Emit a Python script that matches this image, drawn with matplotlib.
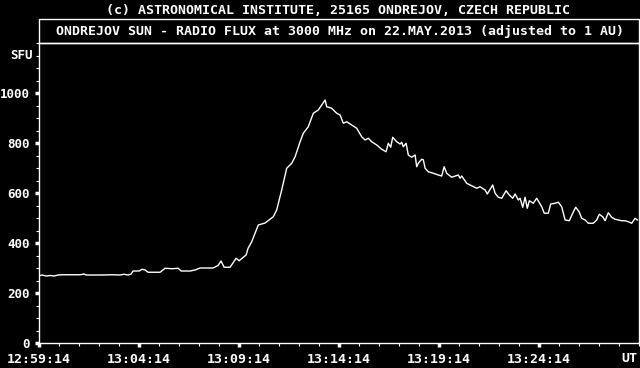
"""Ondrejov 3000 MHz solar radio flux, 22 May 2013, recreated in matplotlib."""

import matplotlib
matplotlib.use("Agg")
import matplotlib.pyplot as plt
from matplotlib.patches import Rectangle
from matplotlib.ticker import MultipleLocator

# --- data --------------------------------------------------------------------
# minutes after 12:59:14 UT
minutes = [
    0.00, 0.18, 0.38, 0.58, 0.78, 0.98, 1.18, 1.58, 2.08, 2.28, 2.38, 3.08,
    3.68, 4.08, 4.28, 4.48, 4.63, 4.73, 5.03, 5.18, 5.33, 5.48, 6.08, 6.33,
    6.68, 6.98, 7.13, 7.58, 7.83, 8.08, 8.73, 8.98, 9.13, 9.28, 9.58, 9.88,
    10.03, 10.38, 10.48, 10.66, 10.99, 11.33, 11.74, 11.91, 12.16, 12.41,
    12.66, 12.83, 13.08, 13.24, 13.49, 13.74, 13.99, 14.16, 14.33, 14.41,
    14.66, 14.91, 15.08, 15.24, 15.41, 15.66, 15.91, 16.16, 16.33, 16.49,
    16.66, 16.91, 17.16, 17.38, 17.49, 17.61, 17.71, 17.91, 18.08, 18.16,
    18.24, 18.38, 18.49, 18.66, 18.83, 18.91, 18.99, 19.16, 19.24, 19.33,
    19.49, 19.74, 19.99, 20.16, 20.28, 20.41, 20.66, 20.99, 21.08, 21.16,
    21.41, 21.58, 21.91, 22.08, 22.33, 22.44, 22.71, 22.83, 22.99, 23.16,
    23.38, 23.54, 23.71, 23.83, 23.99, 24.08, 24.21, 24.33, 24.44, 24.54,
    24.74, 24.91, 25.16, 25.29, 25.49, 25.61, 25.83, 25.99, 26.16, 26.33,
    26.54, 26.71, 26.86, 27.03, 27.16, 27.33, 27.49, 27.74, 27.91, 28.04,
    28.21, 28.33, 28.49, 28.66, 28.83, 29.16, 29.33, 29.49, 29.66, 29.83,
    29.94,
]
flux_sfu = [
    268, 272, 268, 270, 268, 272, 273, 273, 273, 276, 272, 272,
    273, 272, 275, 272, 276, 288, 288, 295, 292, 283, 283, 299,
    297, 299, 288, 288, 292, 300, 300, 310, 328, 303, 303, 339,
    329, 352, 379, 405, 472, 480, 505, 532, 612, 699,
    719, 745, 805, 839, 865, 919, 932, 952, 972, 945,
    939, 919, 912, 879, 885, 872, 859, 825, 812, 819,
    805, 792, 775, 765, 799, 783, 823, 805, 796, 803,
    785, 799, 752, 743, 752, 705, 719, 735, 733, 699,
    685, 679, 672, 668, 705, 679, 663, 672, 659, 668,
    639, 632, 619, 625, 612, 596, 632, 599, 583, 579,
    609, 592, 579, 596, 572, 579, 543, 583, 539, 569,
    559, 579, 545, 519, 519, 556, 559, 563, 545, 492,
    489, 519, 543, 525, 499, 492, 479, 479, 492, 515,
    505, 489, 521, 503, 495, 489, 489, 485, 479, 499,
    492,
]

tick_minutes = [0, 5, 10, 15, 20, 25]
tick_labels = ["12:59:14", "13:04:14", "13:09:14", "13:14:14", "13:19:14", "13:24:14"]
y_ticks = [0, 200, 400, 600, 800, 1000]

HEADER = "(c) ASTRONOMICAL INSTITUTE, 25165 ONDREJOV, CZECH REPUBLIC"
TITLE = "ONDREJOV SUN - RADIO FLUX at 3000 MHz on 22.MAY.2013 (adjusted to 1 AU)"

FONT = dict(family="DejaVu Sans Mono", weight="bold", color="white")
W, H = 640, 368


def main() -> None:
    fig = plt.figure(figsize=(W / 100, H / 100), dpi=100, facecolor="black")
    ax = fig.add_axes([38.5 / W, 25 / H, 600 / W, 300 / H], facecolor="black")

    ax.plot(minutes, flux_sfu, color="white", lw=1.0)
    ax.set_xlim(0, 30)
    ax.set_ylim(0, 1200)

    for side in ("left", "right", "top", "bottom"):
        ax.spines[side].set_color("white")
        ax.spines[side].set_linewidth(1.0)

    ax.set_xticks(tick_minutes)
    ax.set_xticklabels(tick_labels, fontsize=9.5, **FONT)
    ax.xaxis.set_minor_locator(MultipleLocator(1))
    ax.set_yticks(y_ticks)
    ax.set_yticklabels([str(v) for v in y_ticks], fontsize=9, **FONT)
    ax.yaxis.set_minor_locator(MultipleLocator(50))

    ax.tick_params(which="major", direction="out", length=3, width=2.5,
                   color="white", pad=3)
    ax.tick_params(which="minor", direction="out", length=2, width=0.8,
                   color="white")
    ax.tick_params(axis="x", which="major", pad=4)

    ax.text(-0.01, 1150, "SFU", ha="right", va="center", fontsize=9,
            transform=ax.get_yaxis_transform(), **FONT)
    fig.text(637 / W, 1 - 358 / H, "UT", ha="right", va="center",
             fontsize=9.5, **FONT)

    # title box above the plot
    fig.patches.append(Rectangle((39 / W, 1 - 43 / H), 600 / W, 24 / H,
                                 transform=fig.transFigure, fill=False,
                                 edgecolor="white", lw=1.0))
    fig.text(340 / W, 1 - 31 / H, TITLE, ha="center", va="center",
             fontsize=9.5, **FONT)
    fig.text(338 / W, 1 - 10 / H, HEADER, ha="center", va="center",
             fontsize=9.5, **FONT)

    fig.savefig("out.png", dpi=100, facecolor="black")


if __name__ == "__main__":
    main()
